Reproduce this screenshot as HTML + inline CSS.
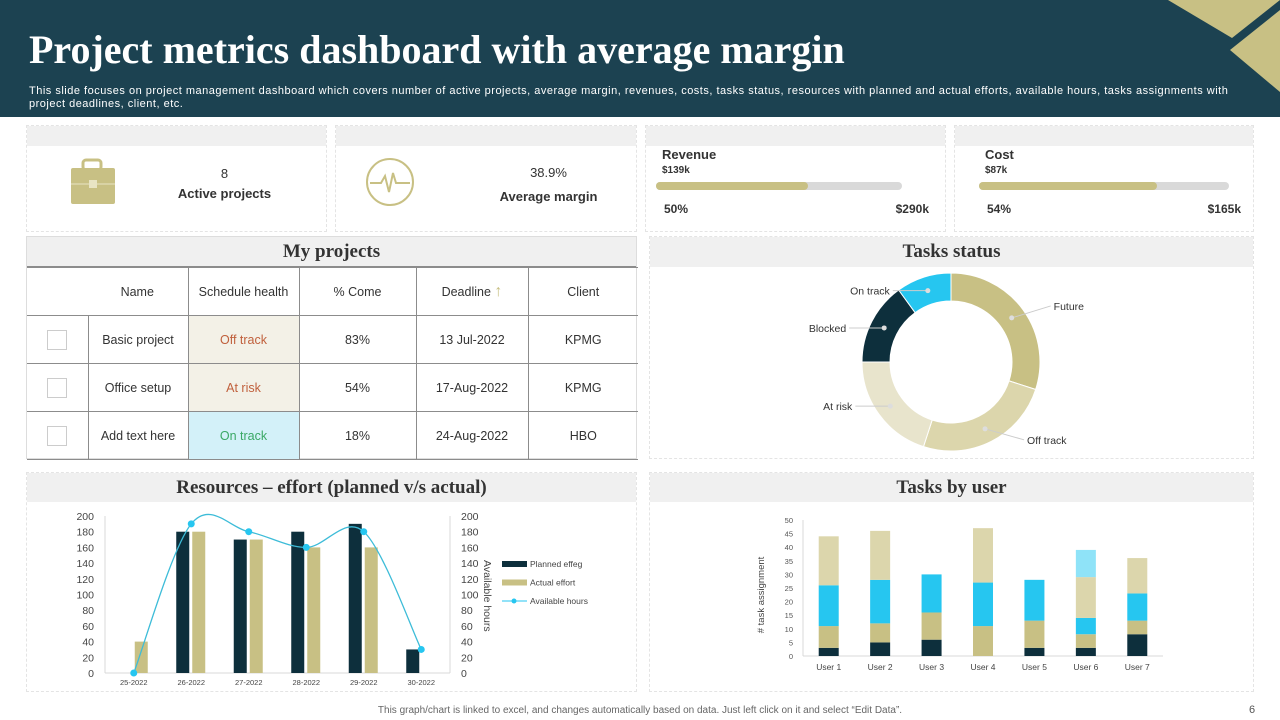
<!DOCTYPE html>
<html><head><meta charset="utf-8">
<style>
*{margin:0;padding:0;box-sizing:border-box}
body{width:1280px;height:720px;background:#fff;font-family:"Liberation Sans",sans-serif;position:relative;overflow:hidden;color:#333}
.abs{position:absolute}
.card{position:absolute;background:#fff;border:1px dashed #e4e4e4}
.strip{position:absolute;left:0;right:0;top:0;background:#f0f0f0}
.ttl{font-family:"Liberation Serif",serif;font-weight:bold;font-size:19px;color:#333;text-align:center}
table{border-collapse:collapse;position:absolute;left:0;top:30px;width:611px}
td{border:1px solid #8c8c8c;text-align:center;font-size:12.5px;color:#333;height:48px}
</style></head><body>
<div class="abs" style="left:0;top:0;width:1280px;height:117px;background:#1c4251"></div>
<svg class="abs" style="left:1160px;top:0" width="120" height="100">
<polygon points="8,0 120,0 72,38" fill="#c8c084"/><polygon points="120,10 120,92 70,50" fill="#c8c084"/></svg>
<div class="abs" style="left:29px;top:26px;font-family:'Liberation Serif',serif;font-weight:bold;font-size:40px;color:#fff">Project metrics dashboard with average margin</div>
<div class="abs" style="left:29px;top:85px;width:1200px;font-size:11px;line-height:13px;color:#fff;letter-spacing:0.5px">This slide focuses on project management dashboard which covers number of active projects, average margin, revenues, costs, tasks status, resources with planned and actual efforts, available hours, tasks assignments with project deadlines, client, etc.</div>

<div class="card" style="left:26px;top:125px;width:301px;height:107px"><div class="strip" style="height:20px"></div>
<svg class="abs" style="left:42px;top:32px" width="48" height="48"><rect x="14" y="2" width="18" height="10" rx="3" fill="none" stroke="#c8c084" stroke-width="3"/><rect x="2" y="10" width="44" height="36" rx="2" fill="#c8c084"/><line x1="2" y1="26" x2="46" y2="26" stroke="#e8e4c4"/><rect x="20" y="22" width="8" height="8" fill="#e8e4c4"/></svg>
<div class="abs" style="left:120px;top:38px;width:155px;text-align:center;font-size:13px;line-height:20px"><div>8</div><div style="font-weight:bold">Active projects</div></div></div>

<div class="card" style="left:335px;top:125px;width:302px;height:107px"><div class="strip" style="height:20px"></div>
<svg class="abs" style="left:28px;top:30px" width="52" height="52"><circle cx="26" cy="26" r="23" fill="none" stroke="#c8c084" stroke-width="2"/><polyline points="6,27 17,27 21,20 25,36 29,17 32,27 46,27" fill="none" stroke="#c8c084" stroke-width="2"/></svg>
<div class="abs" style="left:135px;top:35px;width:155px;text-align:center;font-size:13px;line-height:24px"><div>38.9%</div><div style="font-weight:bold">Average margin</div></div></div>

<div class="card" style="left:645px;top:125px;width:301px;height:107px"><div class="strip" style="height:20px"></div>
<div class="abs" style="left:16px;top:21px;font-size:13px;font-weight:bold">Revenue</div>
<div class="abs" style="left:16px;top:39px;font-size:10px;font-weight:bold">$139k</div>
<div class="abs" style="left:10px;top:56px;width:246px;height:8px;border-radius:4px;background:#d9d9d9"><div style="width:152px;height:8px;border-radius:4px;background:#c8c084"></div></div>
<div class="abs" style="left:18px;top:76px;font-size:12px;font-weight:bold">50%</div>
<div class="abs" style="right:16px;top:76px;font-size:12px;font-weight:bold">$290k</div></div>

<div class="card" style="left:954px;top:125px;width:300px;height:107px"><div class="strip" style="height:20px"></div>
<div class="abs" style="left:30px;top:21px;font-size:13px;font-weight:bold">Cost</div>
<div class="abs" style="left:30px;top:39px;font-size:10px;font-weight:bold">$87k</div>
<div class="abs" style="left:24px;top:56px;width:250px;height:8px;border-radius:4px;background:#d9d9d9"><div style="width:178px;height:8px;border-radius:4px;background:#c8c084"></div></div>
<div class="abs" style="left:32px;top:76px;font-size:12px;font-weight:bold">54%</div>
<div class="abs" style="right:12px;top:76px;font-size:12px;font-weight:bold">$165k</div></div>

<div class="card" style="left:26px;top:236px;width:611px;height:223px;border:1px solid #ddd">
<div class="strip ttl" style="height:30px;line-height:30px;border-bottom:1px solid #8c8c8c">My projects</div>
<table>
<tr><td colspan="2" style="border-left:none;padding-left:60px;border-right:1px solid #8c8c8c">Name</td><td style="width:111px">Schedule health</td><td style="width:117px">% Come</td><td style="width:112px">Deadline <span style="color:#c8c084;font-size:16px">&#8593;</span></td><td style="width:110px;border-right:none">Client</td></tr>
<tr><td style="width:61px;border-left:none"><div style="width:20px;height:20px;border:1px solid #ccc;margin:auto"></div></td><td style="width:100px">Basic project</td><td style="background:#f3f1e7;color:#c0603c">Off track</td><td>83%</td><td>13 Jul-2022</td><td style="border-right:none">KPMG</td></tr>
<tr><td style="border-left:none"><div style="width:20px;height:20px;border:1px solid #ccc;margin:auto"></div></td><td>Office setup</td><td style="background:#f3f1e7;color:#c0603c">At risk</td><td>54%</td><td>17-Aug-2022</td><td style="border-right:none">KPMG</td></tr>
<tr><td style="border-left:none"><div style="width:20px;height:20px;border:1px solid #ccc;margin:auto"></div></td><td>Add text here</td><td style="background:#d3f1f9;color:#3aa865">On track</td><td>18%</td><td>24-Aug-2022</td><td style="border-right:none">HBO</td></tr>
</table></div>

<div class="card" style="left:649px;top:236px;width:605px;height:223px"><div class="strip ttl" style="height:30px;line-height:30px">Tasks status</div></div>
<div class="card" style="left:26px;top:472px;width:611px;height:220px"><div class="strip ttl" style="height:29px;line-height:29px">Resources – effort (planned v/s actual)</div></div>
<div class="card" style="left:649px;top:472px;width:605px;height:220px"><div class="strip ttl" style="height:29px;line-height:29px">Tasks by user</div></div>

<svg class="abs" id="ch" style="left:0;top:0" width="1280" height="720" font-family="Liberation Sans, sans-serif"></svg>

<div class="abs" style="left:0;width:1280px;top:705px;text-align:center;font-size:10px;color:#666">This graph/chart is linked to excel, and changes automatically based on data. Just left click on it and select “Edit Data”.</div>
<div class="abs" style="left:1249px;top:704px;font-size:11px;color:#555">6</div>

<script>
const NS='http://www.w3.org/2000/svg';
const svg=document.getElementById('ch');
function mk(t,a,p){const e=document.createElementNS(NS,t);for(const k in a)e.setAttribute(k,a[k]);(p||svg).appendChild(e);return e;}

// ---- Donut data
const statusLabels=['Future','Off track','At risk','Blocked','On track'];
const statusValues=[30,25,20,15,10];
const statusColors=['#c8c084','#dcd6ac','#e8e4cc','#0d2f3c','#26c6f0'];
// ---- Resources data
const resCats=['25-2022','26-2022','27-2022','28-2022','29-2022','30-2022'];
const planned=[0,180,170,180,190,30];
const actual=[40,180,170,160,160,0];
const hours=[0,190,180,160,180,30];
const resTicks=[0,20,40,60,80,100,120,140,160,180,200];
// ---- Tasks by user data
const users=['User 1','User 2','User 3','User 4','User 5','User 6','User 7'];
const sDark=[3,5,6,0,3,3,8];
const sTan=[8,7,10,11,10,5,5];
const sBlue=[15,16,14,16,15,6,10];
const sLight=[18,18,0,20,0,15,13];
const sSky=[0,0,0,0,0,10,0];
const userTicks=[0,5,10,15,20,25,30,35,40,45,50];

// Donut
{const cx=951,cy=362,R=89,r=61;const tot=statusValues.reduce((a,b)=>a+b,0);let a0=0;
statusValues.forEach((v,i)=>{const a1=a0+v/tot*2*Math.PI;
const p=(a,rr)=>[cx+rr*Math.sin(a),cy-rr*Math.cos(a)];const L=a1-a0>Math.PI?1:0;
const [x1,y1]=p(a0,R),[x2,y2]=p(a1,R),[x3,y3]=p(a1,r),[x4,y4]=p(a0,r);
const e=mk('path',{d:`M${x1},${y1}A${R},${R} 0 ${L} 1 ${x2},${y2}L${x3},${y3}A${r},${r} 0 ${L} 0 ${x4},${y4}Z`,fill:statusColors[i],stroke:'#fff','stroke-width':1});


const am=(a0+a1)/2;const [dx,dy]=p(am,R-14);const right=Math.sin(am)>=0;
const lx=right?dx+42:dx-38;const ly=right?(Math.cos(am)>0?dy-12:dy+11):dy;
mk('line',{x1:dx,y1:dy,x2:right?lx-3:lx+3,y2:ly,stroke:'#ccc'});
mk('circle',{cx:dx,cy:dy,r:2.5,fill:'#ddd'});
const t=mk('text',{x:right?lx:lx,y:ly+4,'font-size':10.5,fill:'#333','text-anchor':right?'start':'end'});t.textContent=statusLabels[i];


a0=a1;});}

// Resources chart
{const x0=105,w=345,yb=673,yt=516;const bw=w/resCats.length;
const X=i=>x0+bw*(i+0.5);const Y=v=>yb-(v/200)*(yb-yt);
mk('line',{x1:x0,y1:yb,x2:x0+w,y2:yb,stroke:'#d9d9d9'});
mk('line',{x1:x0,y1:yt,x2:x0,y2:yb,stroke:'#d9d9d9'});
mk('line',{x1:x0+w,y1:yt,x2:x0+w,y2:yb,stroke:'#d9d9d9'});
resTicks.forEach(v=>{let t=mk('text',{x:94,y:Y(v)+4,'font-size':10.5,fill:'#444','text-anchor':'end'});t.textContent=v;
t=mk('text',{x:461,y:Y(v)+4,'font-size':10.5,fill:'#444'});t.textContent=v;});
resCats.forEach((c,i)=>{const t=mk('text',{x:X(i),y:685,'font-size':7.5,fill:'#444','text-anchor':'middle'});t.textContent=c;
let b=mk('rect',{x:X(i)-15,y:Y(planned[i]),width:13,height:yb-Y(planned[i]),fill:'#0d2f3c'});


b=mk('rect',{x:X(i)+1,y:Y(actual[i]),width:13,height:yb-Y(actual[i]),fill:'#c8c084'});

});
const pts=hours.map((v,i)=>[X(i),Y(v)]);let d=`M${pts[0][0]},${pts[0][1]}`;
for(let i=0;i<pts.length-1;i++){const p0=pts[Math.max(i-1,0)],p1=pts[i],p2=pts[i+1],p3=pts[Math.min(i+2,pts.length-1)];
d+=`C${p1[0]+(p2[0]-p0[0])/6},${p1[1]+(p2[1]-p0[1])/6} ${p2[0]-(p3[0]-p1[0])/6},${p2[1]-(p3[1]-p1[1])/6} ${p2[0]},${p2[1]}`;}
const ln=mk('path',{d:d,fill:'none',stroke:'#3dbcd8','stroke-width':1.3});


pts.forEach(p=>mk('circle',{cx:p[0],cy:p[1],r:3.5,fill:'#26c6f0'}));
const at=mk('text',{x:0,y:0,'font-size':10.5,fill:'#444',transform:'translate(484,560) rotate(90)'});at.textContent='Available hours';


const leg=[['Planned effeg','#0d2f3c',0],['Actual effort','#c8c084',0],['Available hours','#26c6f0',1]];
leg.forEach((l,i)=>{const y=564+i*18.5;
if(l[2]){mk('line',{x1:502,y1:y,x2:527,y2:y,stroke:l[1]});mk('circle',{cx:514,cy:y,r:2.5,fill:l[1]});}
else mk('rect',{x:502,y:y-3,width:25,height:6,fill:l[1]});
const t=mk('text',{x:530,y:y+3,'font-size':8.5,fill:'#444'});t.textContent=l[0];

});}

// Tasks by user chart
{const x0=803,w=360,yb=656,yt=520;const bw=w/users.length;
const X=i=>x0+bw*(i+0.5);const Y=v=>yb-(v/50)*(yb-yt);
mk('line',{x1:x0,y1:yb,x2:x0+w,y2:yb,stroke:'#d9d9d9'});
mk('line',{x1:x0,y1:yt,x2:x0,y2:yb,stroke:'#d9d9d9'});
userTicks.forEach(v=>{const t=mk('text',{x:793,y:Y(v)+3,'font-size':7.5,fill:'#555','text-anchor':'end'});t.textContent=v;});
const series=[[sDark,'#0d2f3c'],[sTan,'#c8c084'],[sBlue,'#26c6f0'],[sLight,'#dcd6ac'],[sSky,'#8fe3f8']];
users.forEach((u,i)=>{let acc=0;series.forEach((s,k)=>{const v=s[0][i];if(v>0){
const b=mk('rect',{x:X(i)-10,y:Y(acc+v),width:20,height:Y(acc)-Y(acc+v),fill:s[1]});

}acc+=v;});
const t=mk('text',{x:X(i),y:670,'font-size':8.5,fill:'#444','text-anchor':'middle'});t.textContent=u;});
const at=mk('text',{x:0,y:0,'font-size':9.5,fill:'#444','text-anchor':'middle',transform:'translate(764,595) rotate(-90)'});at.textContent='# task assignment';

}
</script>
</body></html>
